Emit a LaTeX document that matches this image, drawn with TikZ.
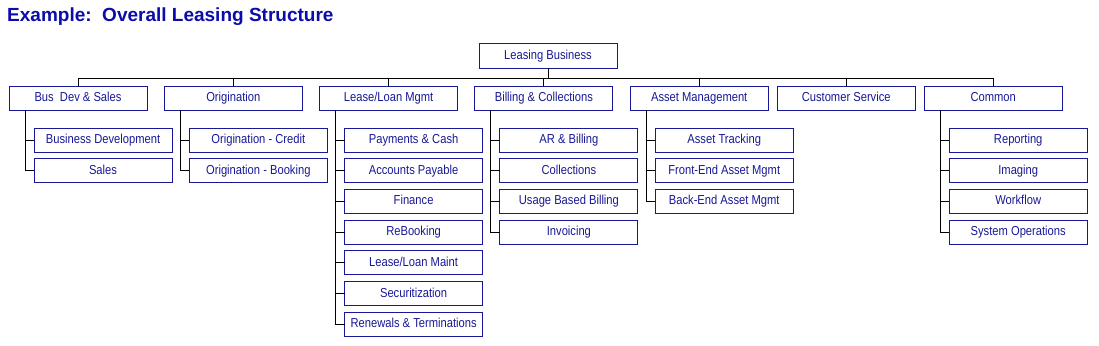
\documentclass[tikz,border=0pt]{standalone}
\usepackage{fontspec}
\setmainfont{Liberation Sans}
\newfontfamily\boxfont[FakeStretch=0.86]{Liberation Sans}
\usetikzlibrary{positioning}
\definecolor{orgblue}{RGB}{24,24,150}
\definecolor{titleblue}{RGB}{12,12,170}
\tikzset{
  unit/.style={draw=orgblue, line width=1pt, minimum width=138pt, minimum height=24pt, inner sep=0pt, outer sep=0pt, text height=9.5pt, text depth=2.5pt, text=orgblue, font=\boxfont\fontsize{13}{15}\selectfont},
  sub/.style={unit},
  link/.style={line width=1pt, black},
  heading/.style={font=\bfseries\fontsize{19}{22}\selectfont, text=titleblue, inner sep=0pt}
}
\begin{document}
\begin{tikzpicture}[x=1pt, y=1pt, node distance=6.7pt and 17.3pt]
\useasboundingbox (0,0) rectangle (1099,-345);
\node[heading, anchor=base west] (title) at (7,-22) {Example:~~Overall Leasing Structure};
% top of the tree
\node[unit] (root) at (548,-56) {Leasing Business};
\node[unit] (bds) at (78,-98) {Bus~ Dev \& Sales};
\node[unit, right=of bds] (org) {Origination};
\node[unit, right=of org] (llm) {Lease/Loan Mgmt};
\node[unit, right=of llm] (bc) {Billing \& Collections};
\node[unit, right=of bc] (am) {Asset Management};
\node[unit, right=9pt of am] (cs) {Customer Service};
\node[unit, right=9pt of cs] (com) {Common};
% second level
\node[sub, below right=18pt and 25pt of bds.south west] (bds1) {Business Development};
\node[sub, below=of bds1] (bds2) {Sales};
\node[sub, below right=18pt and 25pt of org.south west] (org1) {Origination - Credit};
\node[sub, below=of org1] (org2) {Origination - Booking};
\node[sub, below right=18pt and 25pt of llm.south west] (llm1) {Payments \& Cash};
\node[sub, below=of llm1] (llm2) {Accounts Payable};
\node[sub, below=of llm2] (llm3) {Finance};
\node[sub, below=of llm3] (llm4) {ReBooking};
\node[sub, below=of llm4] (llm5) {Lease/Loan Maint};
\node[sub, below=of llm5] (llm6) {Securitization};
\node[sub, below=of llm6] (llm7) {Renewals \& Terminations};
\node[sub, below right=18pt and 25pt of bc.south west] (bc1) {AR \& Billing};
\node[sub, below=of bc1] (bc2) {Collections};
\node[sub, below=of bc2] (bc3) {Usage Based Billing};
\node[sub, below=of bc3] (bc4) {Invoicing};
\node[sub, below right=18pt and 25pt of am.south west] (am1) {Asset Tracking};
\node[sub, below=of am1] (am2) {Front-End Asset Mgmt};
\node[sub, below=of am2] (am3) {Back-End Asset Mgmt};
\node[sub, below right=18pt and 25pt of com.south west] (com1) {Reporting};
\node[sub, below=of com1] (com2) {Imaging};
\node[sub, below=of com2] (com3) {Workflow};
\node[sub, below=of com3] (com4) {System Operations};
% bus
\coordinate (busL) at ([yshift=8pt]bds.north);
\coordinate (busR) at ([yshift=8pt]com.north);
\draw[link] (root.south) -- (root.south |- busL);
\draw[link] (busL) -- (busR);
\foreach \u in {bds, org, llm, bc, am, cs, com}
  \draw[link] (\u.north) -- ++(0,8);
% spines
\draw[link] ([xshift=16pt]bds.south west) |- (bds2.west);
\draw[link] ([xshift=16pt]org.south west) |- (org2.west);
\draw[link] ([xshift=16pt]llm.south west) |- (llm7.west);
\draw[link] ([xshift=16pt]bc.south west) |- (bc4.west);
\draw[link] ([xshift=16pt]am.south west) |- (am3.west);
\draw[link] ([xshift=16pt]com.south west) |- (com4.west);
\foreach \s in {bds1, org1, llm1, llm2, llm3, llm4, llm5, llm6, bc1, bc2, bc3, am1, am2, com1, com2, com3}
  \draw[link] (\s.west) -- ++(-9,0);
\end{tikzpicture}
\end{document}
